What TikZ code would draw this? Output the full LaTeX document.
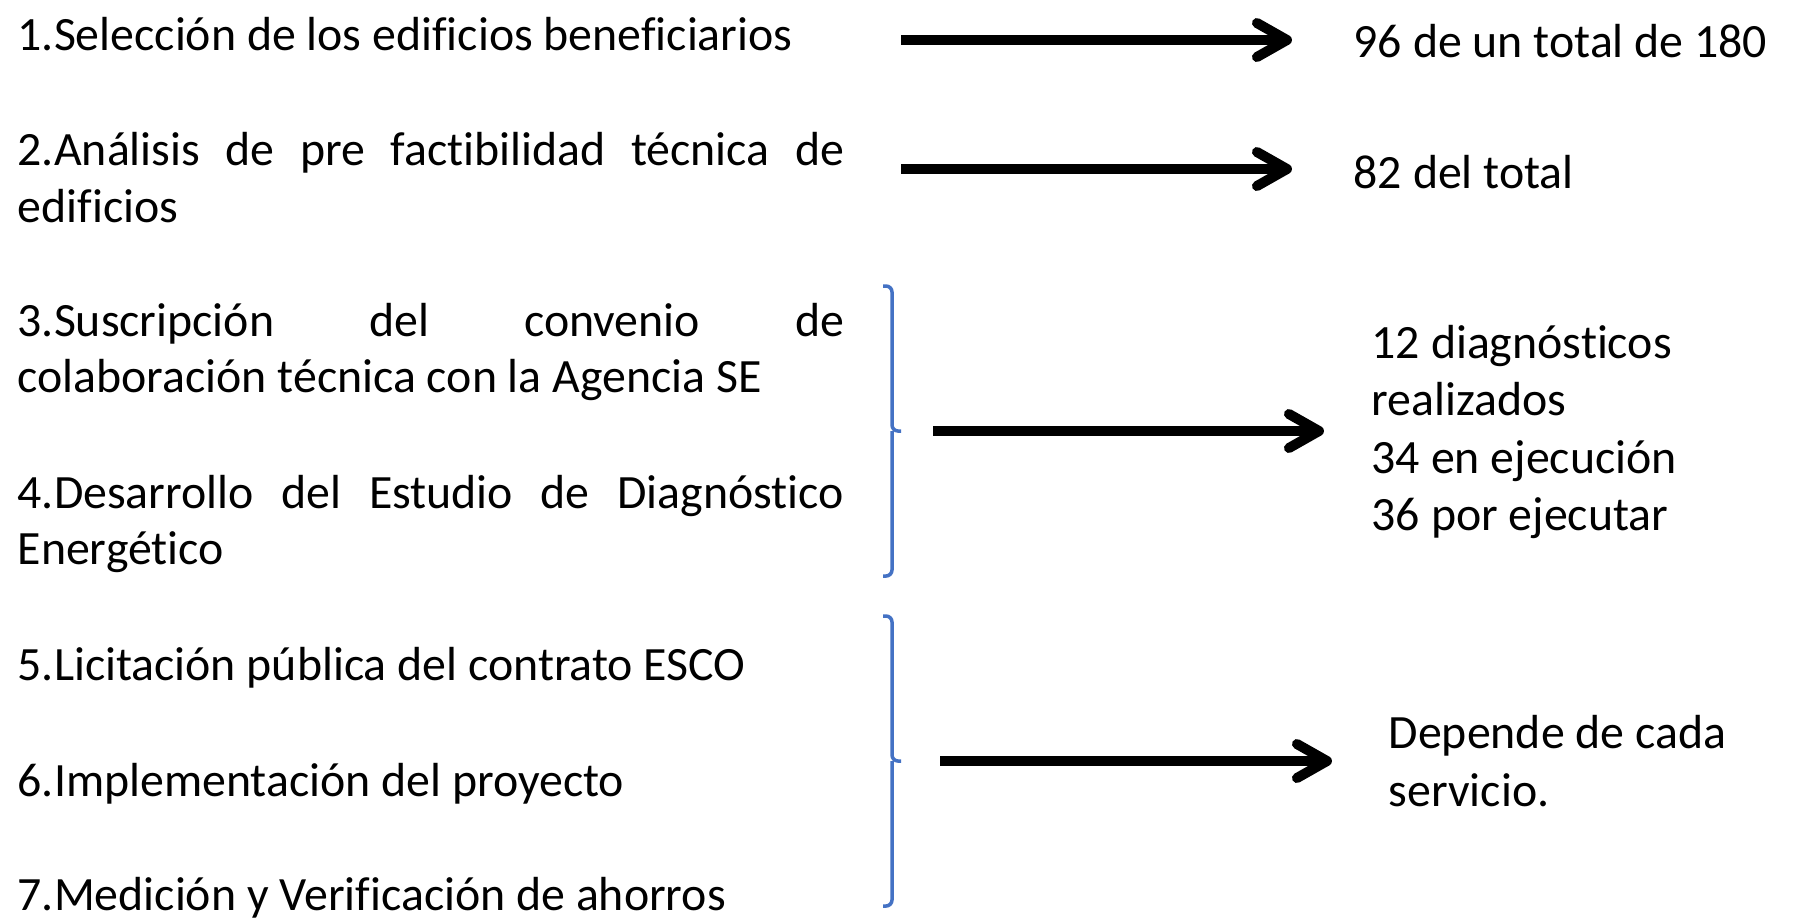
\documentclass[tikz,border=0pt]{standalone}
\usepackage{fontspec}
\setmainfont[Ligatures=NoCommon]{Carlito}
\usetikzlibrary{arrows.meta}
\definecolor{llaveazul}{RGB}{68,114,196}

\begin{document}
\begin{tikzpicture}[x=0.01cm,y=-0.01cm,
  paso/.style={anchor=west,inner sep=0pt,text width=8.26cm,align=justify,
    font=\fontsize{13.6}{16.2}\selectfont},
  res/.style={anchor=west,inner sep=0pt,align=left,
    font=\fontsize{13.6}{16.3}\selectfont},
  arr/.style={line width=1mm,-{Straight Barb[length=3mm,width=3.4mm,round]}},
  llave/.style={draw=llaveazul,line width=0.35mm,rounded corners=0.6mm}]
\useasboundingbox (0,0) rectangle (1793,923);

% pasos del proceso
\foreach \n/\y/\txt in {1/34/{1.Selección de los edificios beneficiarios},
  2/178/{2.Análisis de pre factibilidad técnica de\linebreak edificios},
  3/352/{3.Suscripción del convenio de\linebreak colaboración técnica con la Agencia SE},
  4/524/{4.Desarrollo del Estudio de Diagnóstico\linebreak Energético},
  5/668/{5.Licitación pública del contrato ESCO},
  6/784/{6.Implementación del proyecto},
  7/898/{7.Medición y Verificación de ahorros}}
  \node[paso] (l\n) at (17,\y) {\txt};

% resultados
\node[res] (r1) at (1353,41) {96 de un total de 180};
\node[res] (r2) at (1353,172) {82 del total};
\node[res] (r3) at (1371,432) {12 diagnósticos\\realizados\\34 en ejecución\\36 por ejecutar};
\node[res] (r4) at (1388,761) {Depende de cada\\servicio.};

% llaves
\draw[llave] (883,286) -| (892,431) -- (901,431) coordinate (b1);
\draw[llave] (892,431) |- (883,576);
\draw[llave] (883,616) -| (892,761) -- (901,761) coordinate (b2);
\draw[llave] (892,761) |- (883,906);

\coordinate (s1) at (901,40);
\coordinate (s2) at (901,169);
\draw[arr,shorten >=6.1mm] (s1) -- (s1 -| r1.west);
\draw[arr,shorten >=6.1mm] (s2) -- (s2 -| r2.west);
\draw[arr,shorten <=3.2mm,shorten >=4.7mm] (b1) -- (b1 -| r3.west);
\draw[arr,shorten <=3.9mm,shorten >=5.6mm] (b2) -- (b2 -| r4.west);
\end{tikzpicture}
\end{document}
